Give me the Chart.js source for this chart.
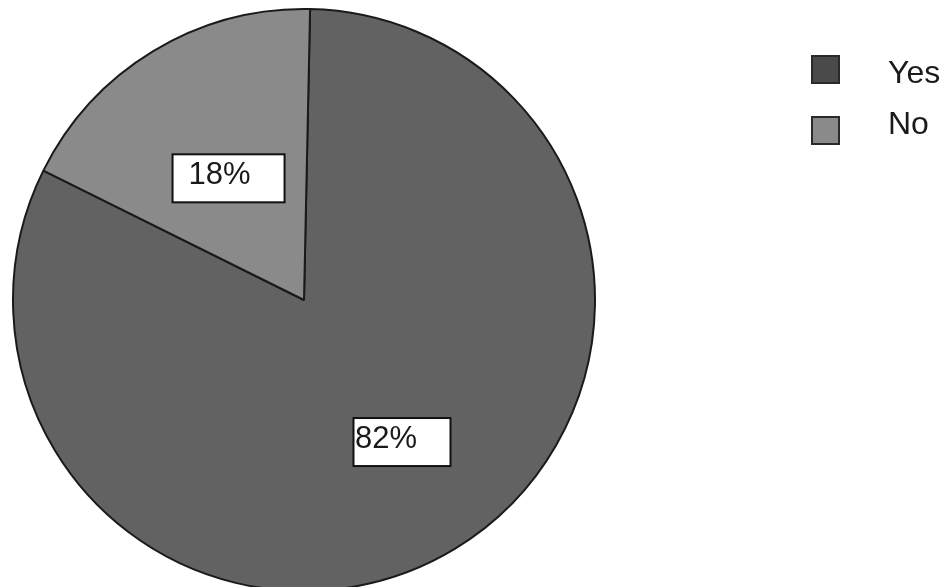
<!DOCTYPE html>
<html>
<head>
<meta charset="utf-8">
<script src="https://cdn.jsdelivr.net/npm/chart.js@4.4.1/dist/chart.umd.min.js"></script>
<style>
  html, body { margin: 0; padding: 0; background: #ffffff; overflow: hidden; }
  #wrap { position: relative; width: 946px; height: 587px; }
</style>
</head>
<body>
<div id="wrap"><canvas id="c" width="946" height="587"></canvas></div>
<script>
const categories = ['Yes', 'No'];
const values = [82, 18];
const valueLabels = ['82%', '18%'];

const sliceColors = ['#626262', '#8a8a8a'];
const legendColors = ['#4a4a4a', '#8a8a8a'];
// label placement: fraction of radius along slice mid-angle (+ angular shift in degrees), box size, text offset
const labelStyle = [
  { frac: 0.593, dAng: -3.4, w: 97, h: 48, textDx: -47 },
  { frac: 0.492, dAng: -0.6, w: 112, h: 48, textDx: -40 }
];

const labelPlugin = {
  id: 'boxLabels',
  afterDatasetsDraw(chart) {
    const ctx = chart.ctx;
    const meta = chart.getDatasetMeta(0);
    meta.data.forEach((arc, i) => {
      const s = labelStyle[i];
      const p = arc.getProps(['x', 'y', 'startAngle', 'endAngle', 'outerRadius'], true);
      const mid = (p.startAngle + p.endAngle) / 2 + s.dAng * Math.PI / 180;
      const r = p.outerRadius * s.frac;
      const cx = p.x + Math.cos(mid) * r;
      const cy = p.y + Math.sin(mid) * r;
      ctx.save();
      ctx.fillStyle = '#ffffff';
      ctx.strokeStyle = '#111111';
      ctx.lineWidth = 2;
      ctx.fillRect(cx - s.w / 2, cy - s.h / 2, s.w, s.h);
      ctx.strokeRect(cx - s.w / 2, cy - s.h / 2, s.w, s.h);
      ctx.fillStyle = '#1a1a1a';
      ctx.font = '31px "Liberation Sans", Arial, sans-serif';
      ctx.textBaseline = 'middle';
      ctx.textAlign = 'left';
      ctx.fillText(valueLabels[i], cx + s.textDx, cy - 3);
      ctx.restore();
    });
  }
};

const legendPlugin = {
  id: 'sideLegend',
  afterDraw(chart) {
    const ctx = chart.ctx;
    const x0 = 812, y0 = 56, step = 61, box = 27;
    ctx.save();
    chart.data.labels.forEach((lab, i) => {
      const y = y0 + i * step;
      ctx.fillStyle = legendColors[i];
      ctx.fillRect(x0, y, box, box);
      ctx.strokeStyle = '#2a2a2a';
      ctx.lineWidth = 2;
      ctx.strokeRect(x0, y, box, box);
      ctx.fillStyle = '#1a1a1a';
      ctx.font = '32px "Liberation Sans", Arial, sans-serif';
      ctx.textBaseline = 'middle';
      ctx.textAlign = 'left';
      ctx.fillText(lab, 888, y + box / 2 + (i === 0 ? 5 : -5));
    });
    ctx.restore();
  }
};

new Chart(document.getElementById('c'), {
  type: 'pie',
  data: {
    labels: categories,
    datasets: [{
      data: values,
      backgroundColor: sliceColors,
      borderColor: '#1a1a1a',
      borderWidth: 2
    }]
  },
  options: {
    responsive: false,
    animation: false,
    rotation: 1.2,
    radius: 291,
    layout: { padding: { left: 0, right: 338, top: 13, bottom: 0 } },
    plugins: {
      legend: { display: false },
      tooltip: { enabled: false }
    }
  },
  plugins: [labelPlugin, legendPlugin]
});
</script>
</body>
</html>
